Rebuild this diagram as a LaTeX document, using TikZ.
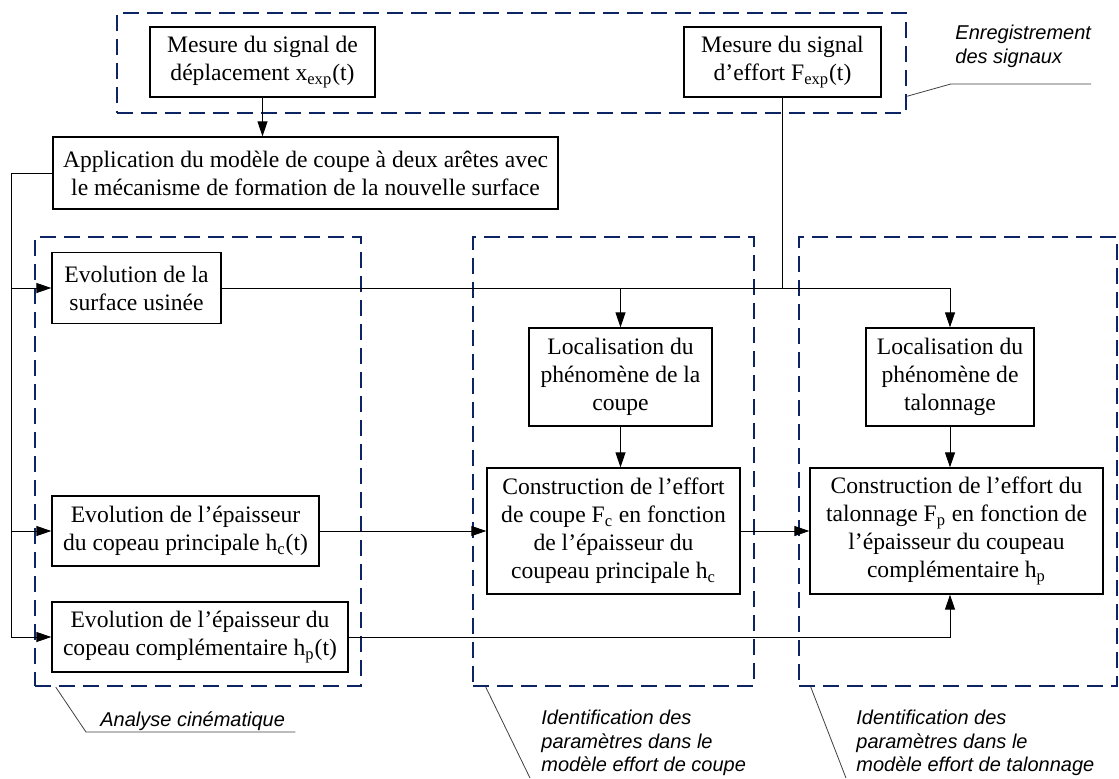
\documentclass[tikz,border=0pt]{standalone}
\usepackage{fontspec}
\setmainfont{Liberation Serif}
\setsansfont{Liberation Sans}
\usepackage{tikz}
\usetikzlibrary{arrows.meta}
\definecolor{marine}{RGB}{12,36,97}

\begin{document}
\begin{tikzpicture}[x=0.5pt, y=-0.5pt, font=\fontsize{11.8}{14}\selectfont,
    bloc/.style={draw, line width=0.65pt, align=center, inner sep=0pt},
    groupe/.style={draw=marine, line width=1.2pt, dash pattern=on 8pt off 4pt, inner sep=0pt},
    fleche/.style={-{Triangle[length=7.5pt, width=5pt]}, line width=0.5pt},
    renvoi/.style={line width=0.4pt, black!75},
    etiq/.style={font=\sffamily\itshape\fontsize{10}{11.75}\selectfont, align=left, inner sep=0pt}]
  \useasboundingbox (0,0) rectangle (1119,778);
  \node[groupe, minimum width=394.5pt, minimum height=50pt] (genr) at (511.5,63) {};
  \node[groupe, minimum width=163pt, minimum height=224.5pt] (gcine) at (198,461.5) {};
  \node[groupe, minimum width=140.5pt, minimum height=224.5pt] (gcoupe) at (613.5,461.5) {};
  \node[groupe, minimum width=159pt, minimum height=224.5pt] (gtalon) at (958,461.5) {};

  \node[bloc, minimum width=112.5pt, minimum height=35pt] (xexp) at (262.5,62) {Mesure du signal de\\déplacement x\textsubscript{exp}(t)};
  \node[bloc, minimum width=98.5pt, minimum height=35pt] (fexp) at (782.5,62) {Mesure du signal\\d’effort F\textsubscript{exp}(t)};
  \node[bloc, minimum width=252.5pt, minimum height=36pt] (appli) at (305.5,173) {Application du modèle de coupe à deux arêtes avec\\le mécanisme de formation de la nouvelle surface};
  \node[bloc, minimum width=84.5pt, minimum height=35.5pt] (surf) at (136.5,288) {Evolution de la\\surface usinée};
  \node[bloc, minimum width=133.5pt, minimum height=35pt] (hc) at (185.5,531) {Evolution de l’épaisseur\\du copeau principale h\textsubscript{c}(t)};
  \node[bloc, minimum width=148pt, minimum height=35pt] (hp) at (200,637) {Evolution de l’épaisseur du\\copeau complémentaire h\textsubscript{p}(t)};
  \node[bloc, minimum width=91.5pt, minimum height=49pt] (locc) at (620.5,377) {Localisation du\\phénomène de la\\coupe};
  \node[bloc, minimum width=84pt, minimum height=49pt] (lott) at (950,377) {Localisation du\\phénomène de\\talonnage};
  \node[bloc, minimum width=126.5pt, minimum height=63pt] (cc) at (613.5,531) {Construction de l’effort\\de coupe F\textsubscript{c} en fonction\\de l’épaisseur du\\coupeau principale h\textsubscript{c}};
  \node[bloc, minimum width=146.5pt, minimum height=63pt] (ct) at (956.5,531) {Construction de l’effort du\\talonnage F\textsubscript{p} en fonction de\\l’épaisseur du coupeau\\complémentaire h\textsubscript{p}};

  \coordinate (gauche) at (11,0);
  \draw[fleche] (xexp.south) -- (xexp.south |- appli.north);
  \draw[line width=0.5pt] (appli.west) -- (appli.west -| gauche) -- (hp.west -| gauche);
  \foreach \n in {surf,hc,hp}
    \draw[fleche] (\n.west -| gauche) -- (\n.west);
  \draw[line width=0.5pt] (fexp.south) -- (fexp.south |- surf.east);
  \draw[fleche] (surf.east) -| (lott.north);
  \draw[fleche] (locc.north |- surf.east) -- (locc.north);
  \draw[fleche] (locc.south) -- (locc.south |- cc.north);
  \draw[fleche] (lott.south) -- (lott.south |- ct.north);
  \draw[fleche] (hc.east) -- (hc.east -| cc.west);
  \draw[fleche] (cc.east) -- (cc.east -| ct.west);
  \draw[fleche] (hp.east) -| (lott.south |- ct.south);

  \node[etiq, anchor=north west] (lenr) at (955,25) {Enregistrement\\des signaux};
  \node[etiq, anchor=base west] (lcine) at (100,726) {Analyse cinématique};
  \node[etiq, anchor=north west] (lcoupe) at (541,710) {Identification des\\paramètres dans le\\modèle effort de coupe};
  \node[etiq, anchor=north west] (ltalon) at (856,710) {Identification des\\paramètres dans le\\modèle effort de talonnage};
  \coordinate (bcoupe) at (530,778);
  \coordinate (btalon) at (846,778);
  \draw[renvoi] ([yshift=9pt]genr.south east) -- ([xshift=-2pt, yshift=-8pt]lenr.south west) -- ++(70pt,0);
  \draw[renvoi] ([xshift=11pt]gcine.south west) -- ([xshift=-7pt, yshift=-3pt]lcine.base west) -- ([xshift=5pt, yshift=-3pt]lcine.base east);
  \draw[renvoi] ([xshift=7pt]gcoupe.south west) -- (bcoupe);
  \draw[renvoi] ([xshift=6.5pt]gtalon.south west) -- (btalon);
\end{tikzpicture}
\end{document}
